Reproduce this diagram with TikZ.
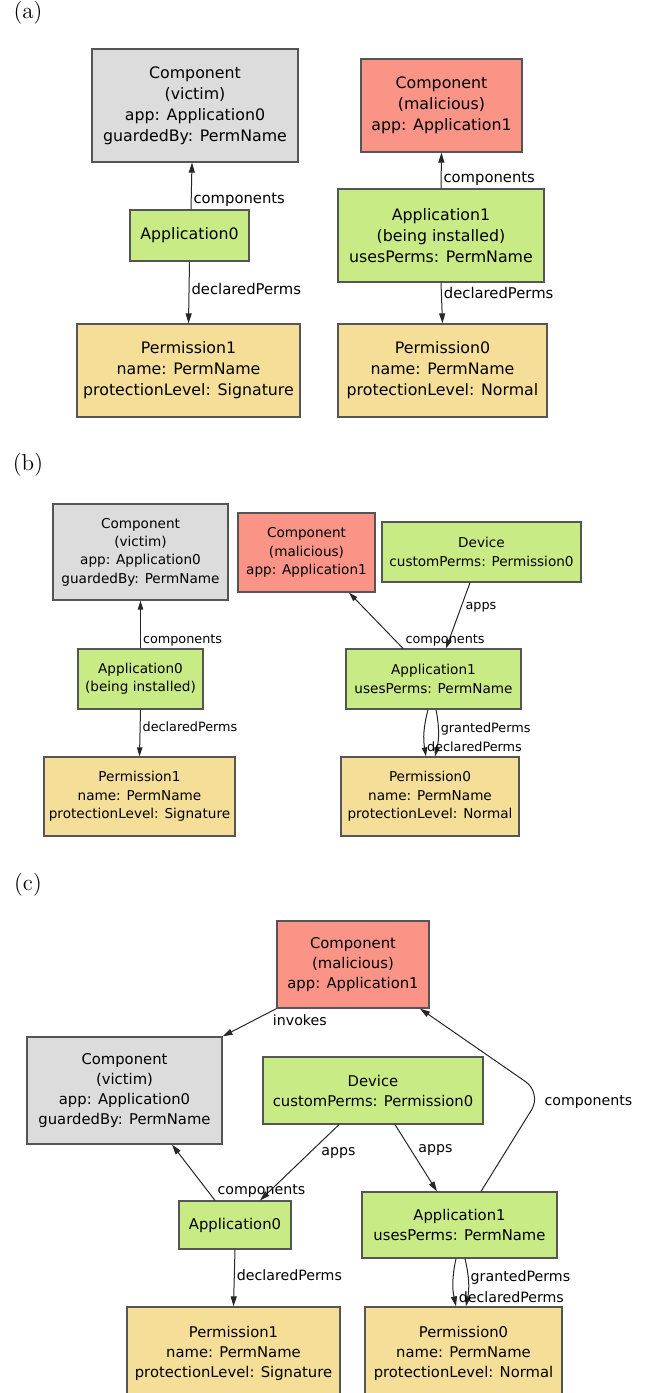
\documentclass[tikz,border=0pt]{standalone}
\usepackage{fontspec}
\setsansfont{DejaVu Sans}
\usetikzlibrary{arrows.meta}
\definecolor{victimgray}{HTML}{DCDCDC}
\definecolor{malred}{HTML}{FA9487}
\definecolor{appgreen}{HTML}{C8EB85}
\definecolor{permyellow}{HTML}{F5DF98}
\definecolor{boxline}{HTML}{555555}
\tikzset{
  box/.style={draw=boxline, line width=0.6pt, align=center, inner sep=1pt},
  victim/.style={box, fill=victimgray},
  mal/.style={box, fill=malred},
  app/.style={box, fill=appgreen},
  perm/.style={box, fill=permyellow},
  sz/.style 2 args={minimum width=#1*0.5pt, minimum height=#2*0.5pt},
  edge/.style={draw=black!85, line width=0.5pt, -{Triangle[length=5pt,width=3pt]}},
  lbl/.style={inner sep=1pt},
  tag/.style={font=\fontsize{11.5}{12}\selectfont, inner sep=0pt}
}
\begin{document}
\begin{tikzpicture}[x=0.5pt,y=-0.5pt]
\useasboundingbox (0,0) rectangle (657,1393);

% (a)
\begin{scope}[box/.append style={font=\sffamily\fontsize{7.9}{10.5}\selectfont},
              lbl/.append style={font=\sffamily\fontsize{7.4}{9}\selectfont}]
\node[tag] (tagA) at (28,13) {(a)};
\node[victim, sz={206}{113}] (victimA) at (195,105.5) {Component\\(victim)\\app: Application0\\guardedBy: PermName};
\node[app, sz={119}{51}] (app0A) at (189.5,235.5) {Application0};
\node[perm, sz={223}{93}] (perm1A) at (188.5,370.5) {Permission1\\name: PermName\\protectionLevel: Signature};
\node[mal, sz={161}{93}] (malA) at (441.5,105.5) {Component\\(malicious)\\app: Application1};
\node[app, sz={206}{93}] (app1A) at (441,235.5) {Application1\\(being installed)\\usesPerms: PermName};
\node[perm, sz={209}{93}] (perm0A) at (442.5,370.5) {Permission0\\name: PermName\\protectionLevel: Normal};
\draw[edge] ([xshift=0.75pt]app0A.north) -- ([xshift=-1.5pt]victimA.south) node[lbl, at start, anchor=south west] {components};
\draw[edge] (app0A.south) -- (perm1A.north) node[lbl, pos=.45, anchor=west] {declaredPerms};
\draw[edge] (app1A.north) -- (malA.south) node[lbl, at start, anchor=south west] {components};
\draw[edge] (app1A.south) -- (perm0A.north) node[lbl, pos=.26, anchor=west] {declaredPerms};
\end{scope}

% (b)
\begin{scope}[box/.append style={font=\sffamily\fontsize{6.8}{9.2}\selectfont},
              lbl/.append style={font=\sffamily\fontsize{6.4}{8}\selectfont},
              edge/.append style={-{Triangle[length=4.5pt,width=2.7pt]}}]
\node[tag] (tagB) at (28,465) {(b)};
\node[victim, sz={175}{96}] (victimB) at (140.5,552) {Component\\(victim)\\app: Application0\\guardedBy: PermName};
\node[mal, sz={137}{79}] (malB) at (306.5,552.5) {Component\\(malicious)\\app: Application1};
\node[app, sz={199}{60}] (devB) at (481.5,552) {Device\\customPerms: Permission0};
\node[app, sz={125}{60}] (app0B) at (140.5,679) {Application0\\(being installed)};
\node[perm, sz={191}{79}] (perm1B) at (139.5,796.5) {Permission1\\name: PermName\\protectionLevel: Signature};
\node[app, sz={175}{60}] (app1B) at (433.5,679) {Application1\\usesPerms: PermName};
\node[perm, sz={178}{79}] (perm0B) at (430,796.5) {Permission0\\name: PermName\\protectionLevel: Normal};
\draw[edge] (app0B.north) -- (victimB.south) node[lbl, at start, anchor=south west] {components};
\draw[edge] (app0B.south) -- (perm1B.north) node[lbl, pos=.375, anchor=west] {declaredPerms};
\draw[edge] ([xshift=-15.25pt]app1B.north) -- ([xshift=21.25pt]malB.south) node[lbl, at start, anchor=south west] {components};
\draw[edge] ([xshift=-5.75pt]devB.south) -- ([xshift=6.25pt]app1B.north) node[lbl, pos=.37, anchor=west, xshift=1pt] {apps};
\draw[edge] ([xshift=1.25pt]app1B.south) to[bend left=12] node[lbl, pos=.4, anchor=west] {grantedPerms} ([xshift=2.5pt]perm0B.north);
\draw[edge] ([xshift=-2.75pt]app1B.south) to[bend right=12] node[lbl, pos=.8, anchor=west] {declaredPerms} ([xshift=-2pt]perm0B.north);
\end{scope}

% (c)
\begin{scope}[box/.append style={font=\sffamily\fontsize{7.4}{10}\selectfont},
              lbl/.append style={font=\sffamily\fontsize{7.1}{9}\selectfont}]
\node[tag] (tagC) at (28,885) {(c)};
\node[mal, sz={152}{87}] (malC) at (353,964.5) {Component\\(malicious)\\app: Application1};
\node[victim, sz={195}{107}] (victimC) at (124.5,1090.5) {Component\\(victim)\\app: Application0\\guardedBy: PermName};
\node[app, sz={220}{67}] (devC) at (373,1090.5) {Device\\customPerms: Permission0};
\node[app, sz={112}{48}] (app0C) at (235,1225) {Application0};
\node[app, sz={195}{66}] (app1C) at (459.5,1225) {Application1\\usesPerms: PermName};
\node[perm, sz={213}{93}] (perm1C) at (233.5,1353.5) {Permission1\\name: PermName\\protectionLevel: Signature};
\node[perm, sz={197}{93}] (perm0C) at (463.5,1353.5) {Permission0\\name: PermName\\protectionLevel: Normal};
\coordinate (bendC) at (542,1093);
\draw[edge] (malC.south west) -- (victimC.north east) node[lbl, at start, anchor=north west, xshift=-3pt, yshift=-2pt] {invokes};
\draw[edge] ([xshift=-10pt]app0C.north) -- ([xshift=23.75pt]victimC.south) node[lbl, at start, anchor=south west] {components};
\draw[edge] ([xshift=-17pt]devC.south) -- ([xshift=12.5pt]app0C.north) node[lbl, pos=.38, anchor=west, xshift=5pt] {apps};
\draw[edge] ([xshift=11pt]devC.south) -- ([xshift=-11.25pt]app1C.north) node[lbl, pos=.38, anchor=west, xshift=2.5pt] {apps};
\draw[edge, rounded corners=10pt] ([xshift=10.75pt]app1C.north) -- (bendC) node[lbl, anchor=west, yshift=-4.5pt] {components} -- ([xshift=33.5pt]malC.south);
\draw[edge] (app0C.south) -- (perm1C.north) node[lbl, pos=.45, anchor=west] {declaredPerms};
\draw[edge] ([xshift=2.75pt]app1C.south) to[bend left=12] node[lbl, pos=.4, anchor=west] {grantedPerms} ([xshift=1.25pt]perm0C.north);
\draw[edge] ([xshift=-1.75pt]app1C.south) to[bend right=12] node[lbl, pos=.82, anchor=west, xshift=1pt] {declaredPerms} ([xshift=-3.75pt]perm0C.north);
\end{scope}
\end{tikzpicture}
\end{document}
